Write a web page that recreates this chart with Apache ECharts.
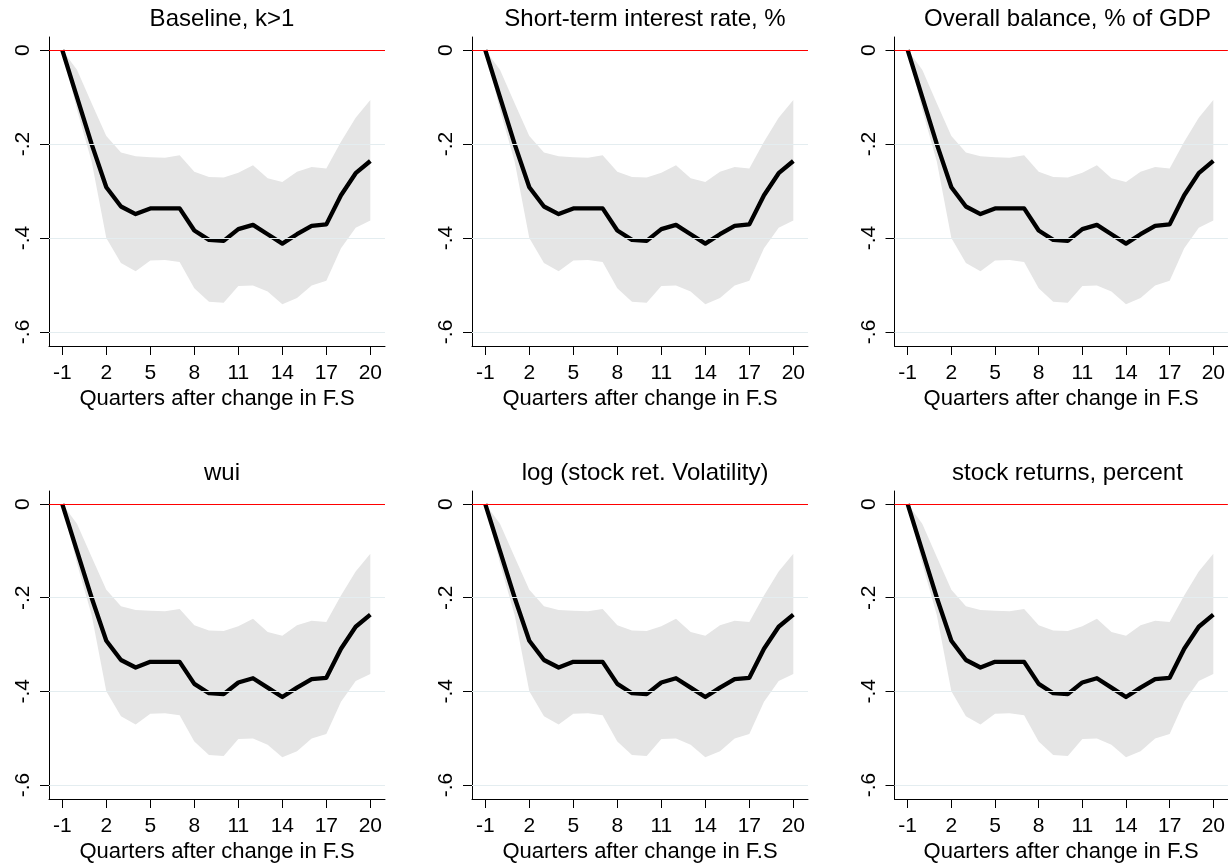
<!DOCTYPE html>
<html>
<head>
<meta charset="utf-8">
<script src="https://cdn.jsdelivr.net/npm/echarts@6/dist/echarts.min.js"></script>
<style>
html,body{margin:0;padding:0;background:#fff;}
#chart{width:1228px;height:864px;}
</style>
</head>
<body>
<div id="chart"></div>
<script>
const panelTitles = ["Baseline, k>1", "Short-term interest rate, %", "Overall balance, % of GDP",
                     "wui", "log (stock ret. Volatility)", "stock returns, percent"];
const quarters = [-1,0,1,2,3,4,5,6,7,8,9,10,11,12,13,14,15,16,17,18,19,20];
const irf   = [0,-0.1,-0.2,-0.292,-0.333,-0.349,-0.337,-0.337,-0.337,-0.384,-0.404,-0.406,-0.381,-0.372,-0.392,-0.412,-0.392,-0.374,-0.371,-0.309,-0.262,-0.236];
const upper = [0,-0.042,-0.113,-0.183,-0.218,-0.226,-0.228,-0.229,-0.224,-0.259,-0.27,-0.271,-0.261,-0.245,-0.273,-0.281,-0.259,-0.249,-0.252,-0.195,-0.144,-0.106];
const lower = [0,-0.127,-0.237,-0.40,-0.453,-0.471,-0.448,-0.447,-0.451,-0.507,-0.536,-0.538,-0.502,-0.501,-0.514,-0.541,-0.528,-0.501,-0.491,-0.422,-0.378,-0.363];
const xTickValues = [-1,2,5,8,11,14,17,20];
const yTickValues = [0,-0.2,-0.4,-0.6];
const yTickLabels = ["0","-.2","-.4","-.6"];
const gridLineValues = [-0.2,-0.4,-0.6];
const zeroLineValue = 0;
const xAxisTitle = "Quarters after change in F.S";

const FONT = "'Liberation Sans', Arial, sans-serif";
const chart = echarts.init(document.getElementById('chart'), null, {renderer:'canvas'});

const colLeft = [49, 472, 894.5];
const rowTop = [37, 491];
const gw = 336, gh = 309;

const grids = [], xAxes = [], yAxes = [], titles = [], series = [];
for (let i = 0; i < 6; i++) {
  const r = Math.floor(i / 3), c = i % 3;
  grids.push({left: colLeft[c], top: rowTop[r], width: gw, height: gh, containLabel: false});
  titles.push({
    text: panelTitles[i], left: colLeft[c] + gw / 2, top: rowTop[r] - 35, textAlign: 'center',
    textStyle: {fontFamily: FONT, fontSize: 24, fontWeight: 'normal', color: '#000'}
  });
  xAxes.push({
    type: 'value', gridIndex: i, min: -1.907, max: 21.0,
    name: xAxisTitle, nameLocation: 'middle', nameGap: 42,
    nameTextStyle: {fontFamily: FONT, fontSize: 22, color: '#000'},
    axisLine: {show: true, onZero: false, lineStyle: {color: '#000', width: 1}},
    axisTick: {show: true, length: 9, customValues: xTickValues, lineStyle: {color: '#000', width: 1}},
    axisLabel: {show: true, customValues: xTickValues, margin: 17, fontFamily: FONT, fontSize: 21, color: '#000'},
    splitLine: {show: false}
  });
  yAxes.push({
    type: 'value', gridIndex: i, min: -0.63, max: 0.028,
    axisLine: {show: true, onZero: false, lineStyle: {color: '#000', width: 1}},
    axisTick: {show: true, length: 9, customValues: yTickValues, lineStyle: {color: '#000', width: 1}},
    axisLabel: {
      show: true, customValues: yTickValues, rotate: 90, margin: 15,
      fontFamily: FONT, fontSize: 21, color: '#000',
      formatter: function (v) {
        for (let k = 0; k < yTickValues.length; k++) if (Math.abs(v - yTickValues[k]) < 1e-9) return yTickLabels[k];
        return '';
      }
    },
    splitLine: {show: false}
  });
  // gridlines
  series.push({
    type: 'line', xAxisIndex: i, yAxisIndex: i, data: [], silent: true, z: 1,
    markLine: {
      silent: true, symbol: 'none', animation: false,
      label: {show: false},
      data: gridLineValues.map(v => ({yAxis: v, lineStyle: {color: '#e4edf0', width: 1.2, type: 'solid'}}))
    }
  });
  // confidence band
  series.push({
    type: 'custom', xAxisIndex: i, yAxisIndex: i, z: 2, silent: true,
    data: [[quarters[0], 0]],
    renderItem: function (params, api) {
      const pts = [];
      for (let k = 0; k < quarters.length; k++) pts.push(api.coord([quarters[k], upper[k]]));
      for (let k = quarters.length - 1; k >= 0; k--) pts.push(api.coord([quarters[k], lower[k]]));
      return {type: 'polygon', shape: {points: pts}, style: {fill: '#e5e5e5', stroke: null}};
    }
  });
  // zero line
  series.push({
    type: 'line', xAxisIndex: i, yAxisIndex: i, data: [], silent: true, z: 3,
    markLine: {
      silent: true, symbol: 'none', animation: false, label: {show: false},
      data: [{yAxis: zeroLineValue, lineStyle: {color: '#ff0000', width: 1.2, type: 'solid'}}]
    }
  });
  // IRF line
  series.push({
    type: 'line', xAxisIndex: i, yAxisIndex: i, z: 4,
    data: quarters.map((q, k) => [q, irf[k]]),
    showSymbol: false, symbol: 'none', silent: true,
    lineStyle: {color: '#000', width: 4.3, join: 'round'}
  });
}

chart.setOption({
  animation: false,
  backgroundColor: '#fff',
  title: titles, grid: grids, xAxis: xAxes, yAxis: yAxes, series: series
});
</script>
</body>
</html>
